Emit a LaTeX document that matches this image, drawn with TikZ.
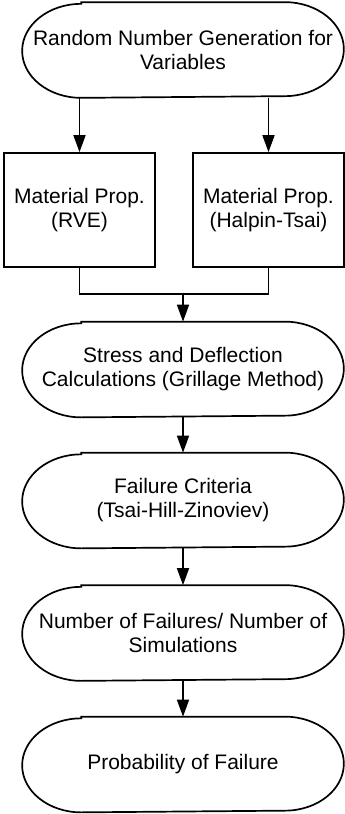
\documentclass[tikz,border=0pt]{standalone}
\usepackage{fontspec}
\setmainfont{Liberation Sans}
\usetikzlibrary{arrows.meta}

\tikzset{every picture/.style={line width=1.7pt}}
\tikzset{
  term/.style={minimum width=320pt, minimum height=94pt, inner sep=0pt, align=center, font=\fontsize{21}{24}\selectfont},
  procbox/.style={draw, minimum width=151pt, minimum height=114pt, inner sep=0pt, align=center, font=\fontsize{21}{24}\selectfont},
  flow/.style={-{Triangle[length=17pt,width=12pt]}}
}
% outline of a terminal node, elliptic ends
\newcommand{\termline}[1]{%
  \draw ([xshift=59pt]#1.north west) -- ([xshift=-59pt]#1.north east)
    arc[start angle=-90, end angle=90, x radius=59, y radius=47]
    -- ([xshift=59pt]#1.south west)
    arc[start angle=90, end angle=270, x radius=59, y radius=47] -- cycle;}

\begin{document}
\begin{tikzpicture}[x=1pt,y=1pt,yscale=-1,xscale=1]
		\useasboundingbox (0,0) rectangle (345,814);
		
		%Terminal 
		\node[term] (rng) at (183,50) {Random Number Generation for\\Variables};
		\termline{rng}
		%Process 
		\node[procbox] (rve) at (79.5,210) {Material Prop.\\(RVE)};
		%Process 
		\node[procbox] (hal) at (268.5,210) {Material Prop.\\(Halpin-Tsai)};
		%Terminal 
		\node[term] (sdc) at (183,369.5) {Stress and Deflection\\Calculations (Grillage Method)};
		\termline{sdc}
		%Terminal 
		\node[term] (fc) at (183,500.5) {Failure Criteria\\(Tsai-Hill-Zinoviev)};
		\termline{fc}
		%Terminal 
		\node[term] (nf) at (183,633) {Number of Failures/ Number of\\Simulations};
		\termline{nf}
		%Terminal 
		\node[term] (pf) at (183,764.5) {Probability of Failure};
		\termline{pf}
		
		\coordinate (merge) at (183,294);
		
		%Connectors 
		\draw[flow] (rng.south -| rve.north) -- (rve.north);
		\draw[flow] (rng.south -| hal.north) -- (hal.north);
		\draw (rve.south) |- (merge) -| (hal.south);
		\draw[flow] (merge) -- (sdc.north);
		\draw[flow] (sdc.south) -- (fc.north);
		\draw[flow] (fc.south) -- (nf.north);
		\draw[flow] (nf.south) -- (pf.north);
		
\end{tikzpicture}
\end{document}
